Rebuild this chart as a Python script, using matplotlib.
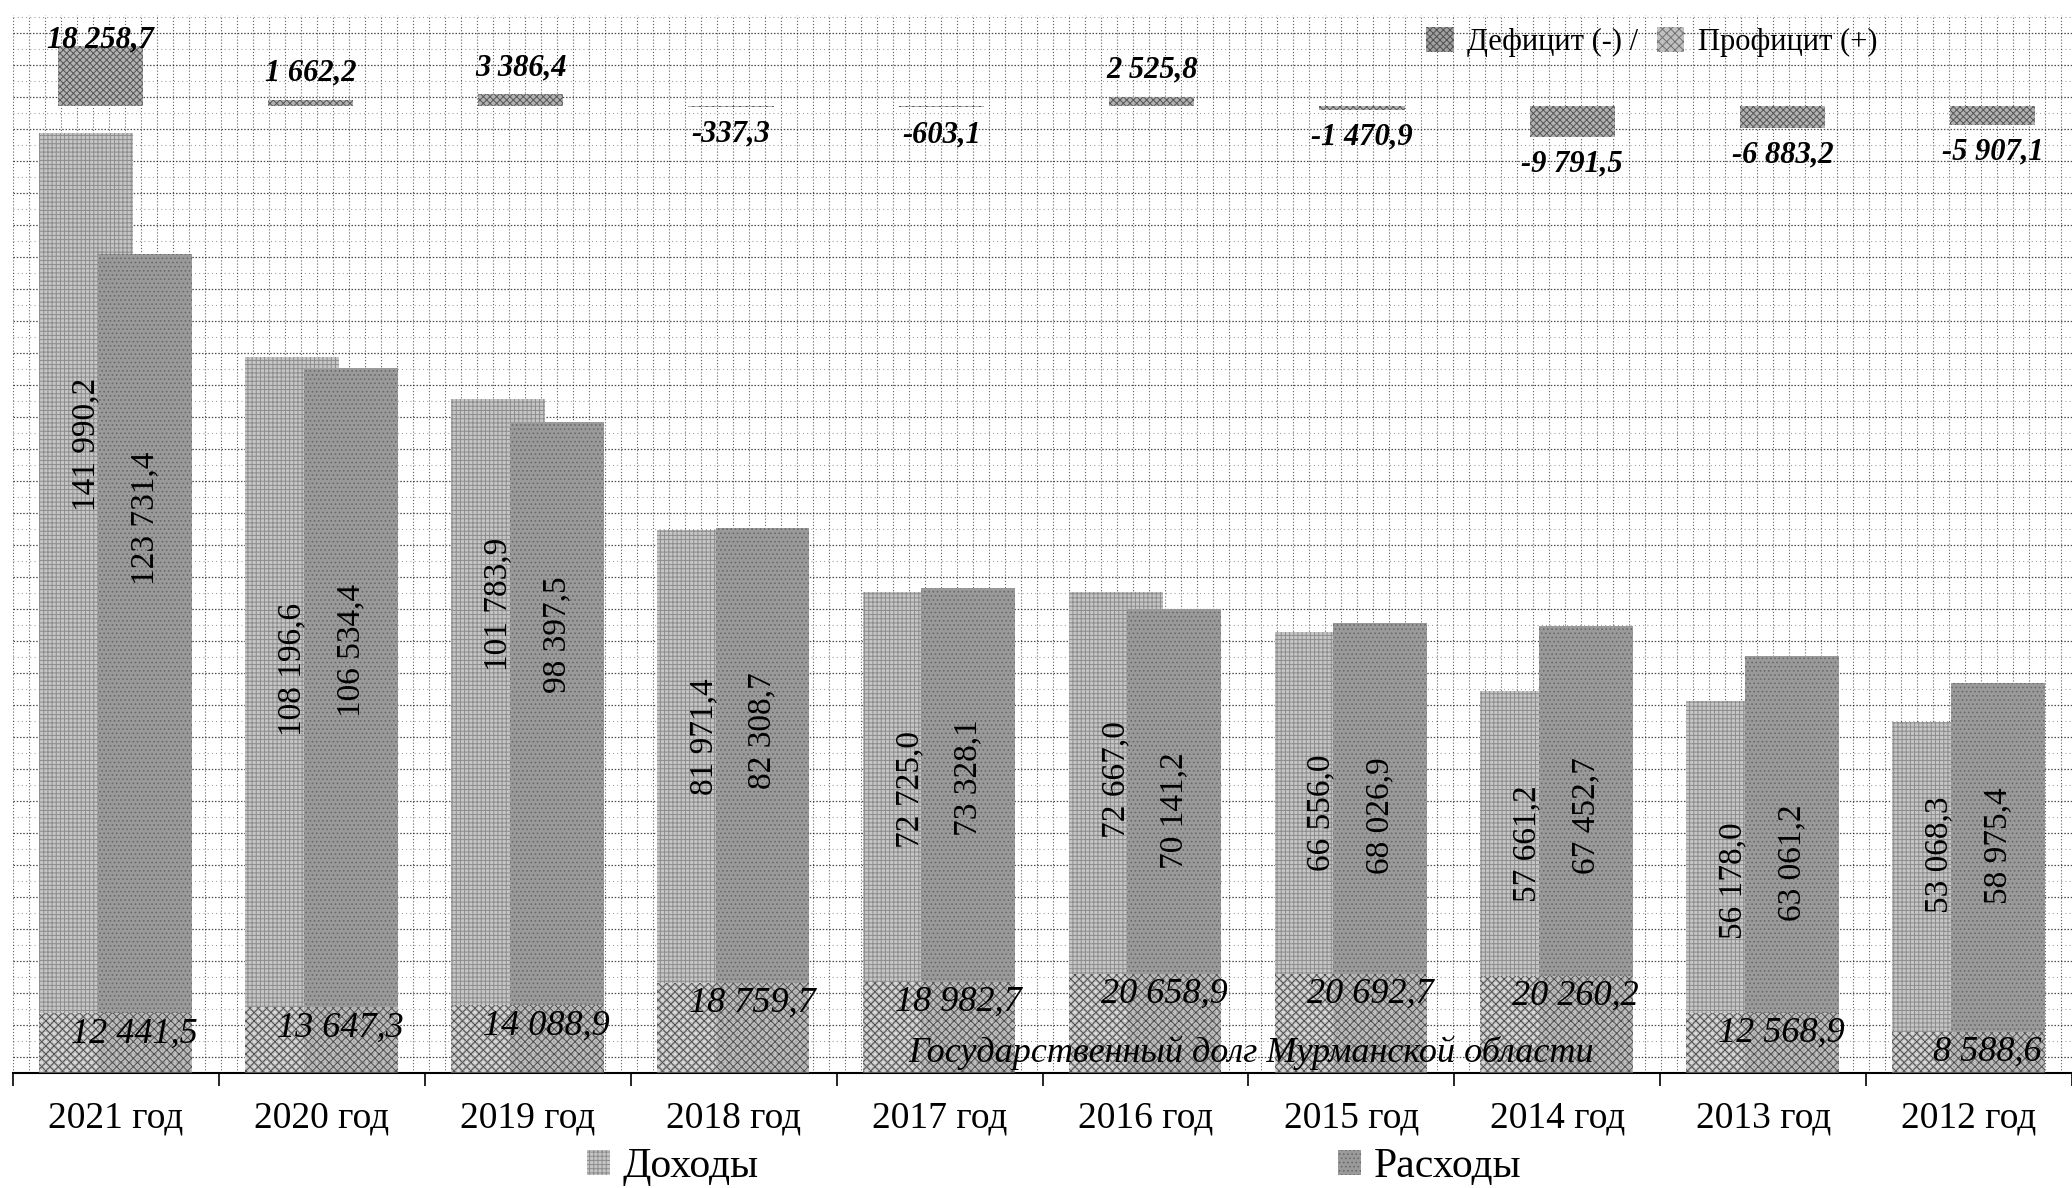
import numpy as np
import matplotlib.pyplot as plt
from matplotlib.patches import Patch

plt.rcParams['font.family'] = ['Liberation Serif', 'DejaVu Serif']
plt.rcParams['hatch.linewidth'] = 0.7

# данные, тыс. руб.
years = ['2021 год', '2020 год', '2019 год', '2018 год', '2017 год',
         '2016 год', '2015 год', '2014 год', '2013 год', '2012 год']
income = [141990.2, 108196.6, 101783.9, 81971.4, 72725.0,
          72667.0, 66556.0, 57661.2, 56178.0, 53068.3]
expense = [123731.4, 106534.4, 98397.5, 82308.7, 73328.1,
           70141.2, 68026.9, 67452.7, 63061.2, 58975.4]
debt = [12441.5, 13647.3, 14088.9, 18759.7, 18982.7,
        20658.9, 20692.7, 20260.2, 12568.9, 8588.6]
balance = [18258.7, 1662.2, 3386.4, -337.3, -603.1,
           2525.8, -1470.9, -9791.5, -6883.2, -5907.1]

# где стоят вертикальные подписи внутри столбцов (в единицах оси)
income_label_y = [94900, 60900, 70800, 50800, 42800, 44300, 39300, 34700, 29000, 32900]
expense_label_y = [83800, 63900, 66200, 51700, 44600, 39700, 38900, 38900, 31700, 34400]


def fmt(v):
    return f"{v:,.1f}".replace(",", " ").replace(".", ",")


W, H = 2072, 1188
fig = plt.figure(figsize=(W / 100, H / 100), dpi=100)

x = np.arange(len(years))
left_px, right_px, base_px, top_px = 13, 2072, 1073, 15
rect = [left_px / W, (H - base_px) / H, (right_px - left_px) / W, (base_px - top_px) / H]

# фон в клетку: вертикальные линии через 16 px, горизонтальные чередуются
ax_bg = fig.add_axes(rect, zorder=0)
ax_bg.set_xlim(0, right_px - left_px)
ax_bg.set_ylim(0, base_px - top_px)
ax_bg.set_xticks(np.arange(0, right_px - left_px, 16))
ax_bg.set_yticks(np.arange(16, base_px - top_px, 32))
ax_bg.set_yticks(np.arange(32, base_px - top_px, 32), minor=True)
ax_bg.grid(True, axis="x", color="black", linestyle=(0, (1, 1.8)), linewidth=0.8, alpha=0.62)
ax_bg.grid(True, axis="y", which="major", color="black", linestyle=(0, (1.2, 1.4)),
           linewidth=0.9, alpha=0.7)
ax_bg.grid(True, axis="y", which="minor", color="black", linestyle=(0, (0.8, 3)),
           linewidth=0.8, alpha=0.45)
ax_bg.tick_params(which="both", length=0, labelleft=False, labelbottom=False)
for s in ax_bg.spines.values():
    s.set_visible(False)

# основные столбцы
ax = fig.add_axes(rect, zorder=1)
ax.patch.set_alpha(0)
ax.set_xlim(-0.5, len(years) - 0.5)
ax.set_ylim(0, (base_px - top_px) / 6.62 * 1000)
bw = 0.456
ax.bar(x - 0.145, income, bw, facecolor="#c6c6c6", edgecolor="#8c8c8c", hatch="++++", linewidth=0)
ax.bar(x + 0.14, expense, bw, facecolor="#9a9a9a", edgecolor="#6a6a6a", hatch="....", linewidth=0)

for i in range(len(years)):
    ax.text(x[i] - 0.145, income_label_y[i], fmt(income[i]), rotation=90,
            ha="center", va="center", fontsize=24)
    ax.text(x[i] + 0.14, expense_label_y[i], fmt(expense[i]), rotation=90,
            ha="center", va="center", fontsize=24)

for s in ["left", "top", "right"]:
    ax.spines[s].set_visible(False)
ax.spines["bottom"].set_linewidth(1.5)
ax.set_yticks([])
ax.set_xticks(x)
ax.set_xticklabels(years, fontsize=27)
ax.set_xticks(np.arange(-0.5, len(years), 1), minor=True)
ax.tick_params(axis="x", which="major", length=0, pad=20)
ax.tick_params(axis="x", which="minor", length=9, width=1.2, direction="out")

# государственный долг поверх низа столбцов
ax_d = ax.twinx()
ax_d.set_ylim(0, (base_px - top_px) / 4.8 * 1000)
ax_d.bar(x - 0.0025, debt, 0.741, facecolor="white", alpha=0.35, linewidth=0)
ax_d.bar(x - 0.0025, debt, 0.741, facecolor="none", edgecolor="#505050", hatch="xxxx", linewidth=0)
for i in range(len(years)):
    ax_d.annotate(fmt(debt[i]), (x[i] + 0.09, debt[i]), xytext=(0, -3),
                  textcoords="offset points", ha="center", va="top",
                  fontsize=26, style="italic")
ax_d.axis("off")
fig.text(1251 / W, (H - 1053) / H, "Государственный долг Мурманской области",
         ha="center", va="center", fontsize=26, style="italic")

# дефицит / профицит
ax_b = fig.add_axes([-5 / W, (H - 230) / H, 2103 / W, 230 / H], zorder=3)
ax_b.patch.set_alpha(0)
ax_b.set_xlim(-0.5, len(years) - 0.5)
ax_b.set_ylim(-124.5 / 3.25 * 1000, 105.5 / 3.25 * 1000)
ax_b.bar(x, balance, 0.405, facecolor="#b2b2b2", edgecolor="#555555", hatch="xxxxx", linewidth=0)
for i, v in enumerate(balance):
    if v >= 0:
        off = 19.5 if v < 15000 else 4.5
    else:
        off = -19.5
    ax_b.annotate(fmt(v), (x[i], v), xytext=(0, off), textcoords="offset points",
                  ha="center", va="center", fontsize=22, fontweight="bold", style="italic")
ax_b.axis("off")

# легенды
h_def = Patch(facecolor="#a0a0a0", edgecolor="#505050", hatch="xxxxx", linewidth=0)
h_pro = Patch(facecolor="#c0c0c0", edgecolor="#707070", hatch="xxxx", linewidth=0)
fig.legend([h_def, h_pro], ["Дефицит (-) /", "Профицит (+)"], ncol=2, frameon=False,
           loc="center left", bbox_to_anchor=(1426 / W, (H - 42) / H), fontsize=22,
           borderpad=0, borderaxespad=0, handlelength=0.9, handleheight=0.9,
           handletextpad=0.45, columnspacing=0.6)

h_inc = Patch(facecolor="#c6c6c6", edgecolor="#8c8c8c", hatch="++++", linewidth=0)
h_exp = Patch(facecolor="#9a9a9a", edgecolor="#6a6a6a", hatch="....", linewidth=0)
fig.legend([h_inc], ["Доходы"], frameon=False, loc="center left",
           bbox_to_anchor=(587 / W, (H - 1167) / H), fontsize=30, borderpad=0,
           borderaxespad=0, handlelength=0.55, handleheight=0.55, handletextpad=0.3)
fig.legend([h_exp], ["Расходы"], frameon=False, loc="center left",
           bbox_to_anchor=(1338 / W, (H - 1167) / H), fontsize=30, borderpad=0,
           borderaxespad=0, handlelength=0.55, handleheight=0.55, handletextpad=0.3)

fig.savefig("out.png", dpi=100, facecolor="white")
